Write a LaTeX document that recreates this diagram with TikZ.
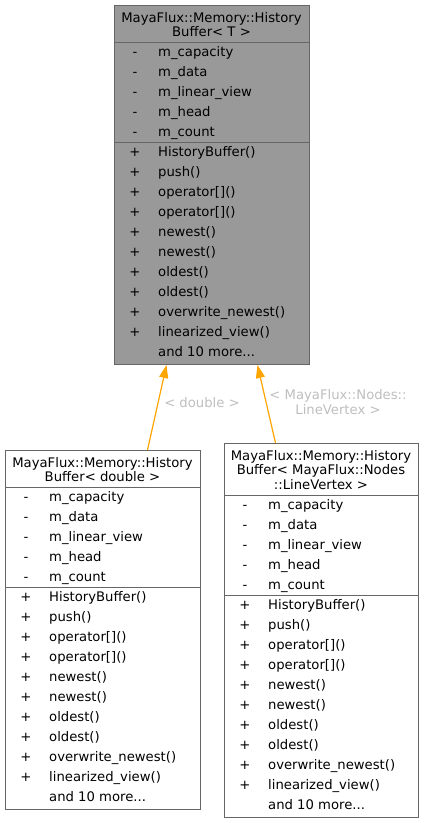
\documentclass[tikz,border=0pt]{standalone}
\usepackage{fontspec}
\setmainfont{DejaVu Sans}
\usetikzlibrary{arrows.meta}
\definecolor{boxborder}{HTML}{666666}
\definecolor{basefill}{HTML}{999999}
\definecolor{edgeorange}{HTML}{FFA500}
\definecolor{labelgrey}{HTML}{BEBEBE}
\tikzset{
  classbox/.style={draw=boxborder, line width=1pt, anchor=north west, inner sep=0pt},
  sepline/.style={draw=boxborder, line width=1pt},
  ttl/.style={font=\fontsize{13.2}{14.4}\selectfont, align=center, inner sep=0pt},
  sig/.style={font=\fontsize{13.2}{14.4}\selectfont, anchor=base, inner sep=0pt},
  mem/.style={font=\fontsize{13.2}{14.4}\selectfont, anchor=base west, inner sep=0pt},
  lab/.style={font=\fontsize{13.2}{15}\selectfont, text=labelgrey, align=center, inner sep=0pt},
  inh/.style={draw=edgeorange, line width=1.2pt, -{Triangle[length=13pt,width=9pt]}},
}
\newcommand\members[4]{% #1 prefix, #2 left x, #3 first attribute centre y, #4 first method centre y
  \foreach \t [count=\i from 0] in {m\_capacity, m\_data, m\_linear\_view, m\_head, m\_count} {
    \node[sig] (#1-as\i) at (#2+21, #3+4.6+20*\i) {-};
    \node[mem] (#1-a\i) at (#2+44, #3+4.6+20*\i) {\t};
  }
  \foreach \t [count=\i from 0] in {HistoryBuffer(), push(), operator[](), operator[](), newest(), newest(), oldest(), oldest(), overwrite\_newest(), linearized\_view()} {
    \node[sig] (#1-ms\i) at (#2+21, #4+4.6+20*\i) {+};
    \node[mem] (#1-m\i) at (#2+44, #4+4.6+20*\i) {\t};
  }
  \node[mem] (#1-more) at (#2+44, #4+4.6+200) {and 10 more...};
}
\begin{document}
\begin{tikzpicture}[x=1pt, y=-1pt]
\useasboundingbox (0,0) rectangle (424,823);

% base template class
\node[classbox, fill=basefill, minimum width=195pt, minimum height=359pt] (base) at (114,5) {};
\draw[sepline] (114,42) -- (309,42);
\draw[sepline] (114,142) -- (309,142);
\node[ttl] (base-title) at (211.5,24.5) {MayaFlux::Memory::History\\Buffer< T >};
\members{b}{114}{52}{152}

% double instantiation
\node[classbox, fill=white, minimum width=195pt, minimum height=359pt] (dbl) at (5,450) {};
\draw[sepline] (5,487) -- (200,487);
\draw[sepline] (5,587) -- (200,587);
\node[ttl] (dbl-title) at (102.5,469.5) {MayaFlux::Memory::History\\Buffer< double >};
\members{d}{5}{497}{597}

% LineVertex instantiation
\node[classbox, fill=white, minimum width=194pt, minimum height=374pt] (lv) at (224,443) {};
\draw[sepline] (224,495) -- (418,495);
\draw[sepline] (224,595) -- (418,595);
\node[ttl] (lv-title) at (321,470) {MayaFlux::Memory::History\\Buffer< MayaFlux::Nodes\\::LineVertex >};
\members{l}{224}{505}{605}

% inheritance edges
\draw[inh] ([xshift=44.5pt]dbl.north) -- ([xshift=-45.5pt]base.south);
\draw[inh] ([xshift=-46pt]lv.north) -- ([xshift=45.5pt]base.south);
\node[lab] (lab-dbl) at (202,403) {< double >};
\node[lab] (lab-lv) at (338,402.5) {< MayaFlux::Nodes::\\LineVertex >};
\end{tikzpicture}
\end{document}
